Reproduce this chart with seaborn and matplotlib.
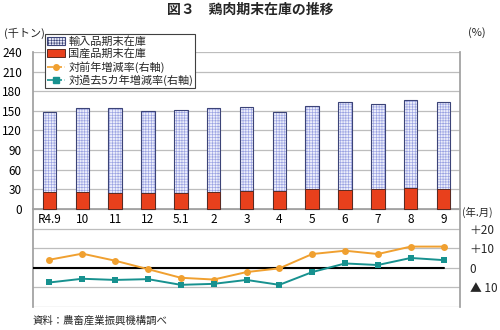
import numpy as np
import pandas as pd
import matplotlib
matplotlib.use("Agg")
import matplotlib.pyplot as plt
import seaborn as sns
from matplotlib.patches import Patch
from matplotlib.lines import Line2D

sns.set_theme(style="white")
plt.rcParams['font.family'] = ['Noto Sans CJK JP', 'DejaVu Sans']
plt.rcParams['hatch.linewidth'] = 0.45

# ---- data ----
months = ["R4.9", "10", "11", "12", "5.1", "2", "3", "4", "5", "6", "7", "8", "9"]
imported = [121.5, 129.0, 130.5, 125.5, 126.5, 129.0, 128.0, 120.0, 128.0, 134.0, 130.0, 134.5, 133.5]
domestic = [26.5, 25.5, 24.0, 24.5, 24.5, 25.5, 27.5, 28.0, 30.0, 29.5, 31.0, 32.0, 30.0]
yoy_rate = [4.1, 7.2, 3.6, -0.7, -5.1, -6.0, -2.2, -0.3, 7.0, 8.7, 7.0, 10.8, 10.8]
avg5_rate = [-7.5, -5.6, -6.2, -5.8, -8.7, -8.2, -6.2, -8.7, -2.2, 2.2, 1.4, 5.0, 3.9]
left_ticks = list(range(-150, 241, 30))
right_ticks = [-10, 0, 10, 20]
right_labels = ["▲ 10", "0", "＋10", "＋20"]

df = pd.DataFrame({"month": months, "imported": imported, "domestic": domestic,
                   "yoy": yoy_rate, "avg5": avg5_rate})
df["total"] = df["imported"] + df["domestic"]
df["pos"] = np.arange(len(df))

c_imp_face = "#ECEEFB"
c_imp_hatch = "#9AA2E2"
c_imp_edge = "#3C4478"
c_dom = "#E8401C"
c_orange = "#F0A030"
c_teal = "#17918F"
c_grid = "#BDBDBD"

fig = plt.figure(figsize=(5.0, 3.3), dpi=100)
ax = fig.add_axes([33/500, 23/330, 427/500, 255/330])

sns.barplot(data=df, x="month", y="total", ax=ax, color=c_imp_face, saturation=1,
            width=0.41, edgecolor=c_imp_hatch, linewidth=0.5, hatch="++++++", zorder=3)
sns.barplot(data=df, x="month", y="total", ax=ax, fill=False, width=0.41,
            edgecolor=c_imp_edge, linewidth=0.8, zorder=3.5)
sns.barplot(data=df, x="month", y="domestic", ax=ax, color=c_dom, saturation=1,
            width=0.41, edgecolor="#5A2A20", linewidth=0.7, zorder=4)

ax.set_xlim(-0.5, len(months) - 0.5)
ax.set_ylim(-150, 240)
ax.set_yticks(left_ticks)
ax.set_yticklabels([str(t) if t >= 0 else "" for t in left_ticks])
ax.yaxis.grid(True, color=c_grid, linewidth=0.9, zorder=0)
ax.set_axisbelow(True)
ax.set_xlabel("")
ax.set_ylabel("")
ax.spines['bottom'].set_position(('data', 0))
ax.spines['bottom'].set_color("#A0A0A0")
ax.spines['left'].set_color("#A0A0A0")
ax.spines['top'].set_visible(False)
ax.spines['right'].set_visible(False)
ax.tick_params(axis='y', length=0, labelsize=8.5, pad=8, colors="black")
ax.tick_params(axis='x', length=0, labelsize=8.5, pad=3, colors="black")
ax.set_xticks(np.arange(-0.5, len(months), 1.0), minor=True)
ax.tick_params(axis='x', which='minor', length=3, direction='in', color="#A0A0A0")

ax2 = ax.twinx()
ax2.set_ylim(-20, 110)
sns.lineplot(data=df, x="pos", y="yoy", ax=ax2, color=c_orange, linewidth=1.4,
             marker="o", markersize=5, markeredgewidth=0, zorder=5)
sns.lineplot(data=df, x="pos", y="avg5", ax=ax2, color=c_teal, linewidth=1.4,
             marker="s", markersize=5, markeredgewidth=0, zorder=5)
ax2.axhline(0, xmin=0, xmax=(len(months) - 0.5) / len(months), color="black",
            linewidth=1.5, zorder=4)
ax2.set_xlim(-0.5, len(months) - 0.5)
ax2.set_yticks(right_ticks)
ax2.set_yticklabels(right_labels)
ax2.tick_params(axis='y', length=0, labelsize=8.5, pad=7)
ax2.set_xlabel("")
ax2.set_ylabel("")
for s in ['top', 'left', 'bottom']:
    ax2.spines[s].set_visible(False)
ax2.spines['right'].set_color("#A0A0A0")

handles = [
    Patch(facecolor=c_imp_face, edgecolor=c_imp_edge, hatch="++++++", linewidth=0.8),
    Patch(facecolor=c_dom, edgecolor="#5A2A20", linewidth=0.7),
    Line2D([], [], color=c_orange, linestyle="--", marker="o", markersize=4, linewidth=1.2),
    Line2D([], [], color=c_teal, linestyle="--", marker="s", markersize=4, linewidth=1.2),
]
labels = ["輸入品期末在庫", "国産品期末在庫", "対前年増減率(右軸)", "対過去5カ年増減率(右軸)"]
leg = fig.legend(handles, labels, loc="upper left", bbox_to_anchor=(45/500, 1 - 34/330),
                 fontsize=8, frameon=True, fancybox=False, framealpha=1,
                 edgecolor="#404040", borderpad=0.2, labelspacing=0.15,
                 handlelength=1.6, handletextpad=0.3, borderaxespad=0)
leg.get_frame().set_linewidth(0.8)

fig.text(0.5, 1 - 10/330, "図３　鶏肉期末在庫の推移", ha="center", va="center",
         fontsize=10, fontweight="bold")
fig.text(4/500, 1 - 33/330, "(千トン)", ha="left", va="center", fontsize=8)
fig.text(468/500, 1 - 33/330, "(%)", ha="left", va="center", fontsize=8)
fig.text(462/500, 1 - 212/330, "(年.月)", ha="left", va="center", fontsize=7.5)
fig.text(33/500, 1 - 321/330, "資料：農畜産業振興機構調べ", ha="left", va="center", fontsize=7.5)

fig.savefig("out.png", dpi=100)
